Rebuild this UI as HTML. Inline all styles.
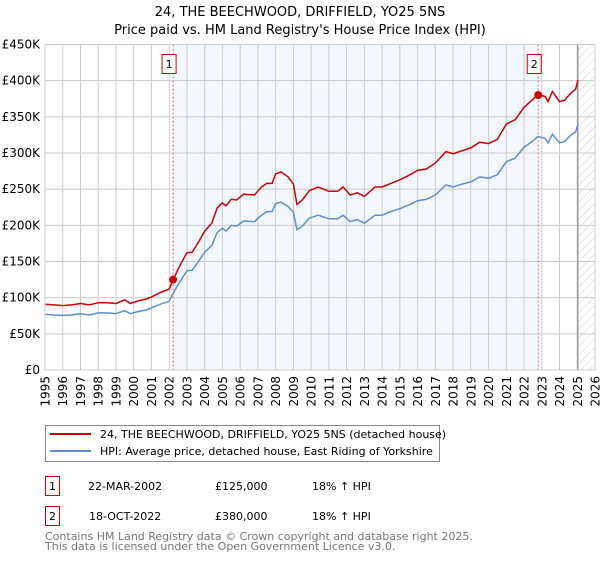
<!DOCTYPE html>
<html><head><meta charset="utf-8"><style>
body{margin:0;background:#fff;font-family:"DejaVu Sans","Liberation Sans",sans-serif;}
svg text{font-family:"DejaVu Sans","Liberation Sans",sans-serif;}
</style></head><body>
<svg id="chart" width="600" height="560" xmlns="http://www.w3.org/2000/svg">
<defs><pattern id="hatch" width="6" height="6" patternUnits="userSpaceOnUse" patternTransform="rotate(45)"><line x1="0" y1="0" x2="0" y2="6" stroke="#ccc" stroke-width="1"/></pattern></defs>
<text x="300" y="16" text-anchor="middle" font-size="13">24, THE BEECHWOOD, DRIFFIELD, YO25 5NS</text>
<text x="300" y="34" text-anchor="middle" font-size="13">Price paid vs. HM Land Registry's House Price Index (HPI)</text>
<g id="plot"></g>
<g>
<rect x="45.5" y="425.5" width="394" height="36" fill="#fff" stroke="#888"/>
<line x1="50" y1="434" x2="91" y2="434" stroke="#cc0000" stroke-width="2"/>
<text x="100" y="438" font-size="11">24, THE BEECHWOOD, DRIFFIELD, YO25 5NS (detached house)</text>
<line x1="50" y1="451" x2="91" y2="451" stroke="#5b8fd0" stroke-width="2"/>
<text x="100" y="455" font-size="11">HPI: Average price, detached house, East Riding of Yorkshire</text>
</g>
<g font-size="11">
<rect x="45.5" y="476.5" width="14" height="19" fill="#fff" stroke="#cc0000"/><text x="52.5" y="490" text-anchor="middle">1</text>
<text x="88" y="490">22-MAR-2002</text><text x="215" y="490">£125,000</text><text x="312" y="490">18% ↑ HPI</text>
<rect x="45.5" y="506.5" width="14" height="19" fill="#fff" stroke="#cc0000"/><text x="52.5" y="520" text-anchor="middle">2</text>
<text x="89" y="520">18-OCT-2022</text><text x="215" y="520">£380,000</text><text x="312" y="520">18% ↑ HPI</text>
</g>
<text x="45" y="540" font-size="11" fill="#777">Contains HM Land Registry data © Crown copyright and database right 2025.</text>
<text x="45" y="550" font-size="11" fill="#777">This data is licensed under the Open Government Licence v3.0.</text>
</svg>
<script>
const years=[1995.0,1995.5,1996.0,1996.5,1997.0,1997.5,1998.0,1998.5,1999.0,1999.5,
1999.8,2000.3,2000.7,2001.0,2001.5,2002.0,2002.22,2002.6,2003.0,2003.3,
2003.7,2004.0,2004.4,2004.7,2005.0,2005.2,2005.5,2005.8,2006.2,2006.8,
2007.2,2007.5,2007.8,2008.0,2008.3,2008.7,2009.0,2009.2,2009.5,2009.9,
2010.4,2011.0,2011.5,2011.8,2012.2,2012.6,2013.0,2013.6,2014.0,2014.5,
2015.0,2015.5,2016.0,2016.5,2017.0,2017.6,2018.0,2018.5,2019.0,2019.5,
2020.0,2020.5,2021.0,2021.5,2022.0,2022.4,2022.8,2023.2,2023.35,2023.6,
2024.0,2024.3,2024.6,2024.9,2025.05];
const hpiValues=[77,76,75.5,76,78,76,79,79,78,82,
78,81,83,86,91,95,106,122,137,138,
152,163,172,190,196,192,200,199,206,205,
214,219,219,230,232,226,218,194,199,210,
214,209,209,214,205,208,203,214,214,219,
223,228,234,236,242,256,253,257,260,267,
265,270,288,293,308,315,323,320,314,326,
314,316,324,329,340];
const propertyValues=[91,90,89,90,92,90,93,93,92,97,
92,96,98,101,107,112,125,144,162,163,
179,192,203,224,231,227,236,235,243,242,
253,258,258,271,274,267,257,229,235,248,
253,247,247,253,242,245,240,253,253,258,
263,269,276,278,286,302,299,303,307,315,
313,319,340,346,363,372,381,378,371,385,
371,373,382,388,401];
const saleYears=[2002.22,2022.8];
const salePrices=[125,380];
const saleLabels=["1","2"];
const yTicks=[0,50,100,150,200,250,300,350,400,450];
const yTickLabels=["£0","£50K","£100K","£150K","£200K","£250K","£300K","£350K","£400K","£450K"];
const xTicks=[];for(let y=1995;y<=2026;y++)xTicks.push(y);
const dataEndYear=2025.03;

const L=45,R=595,T=44.5,B=370;
const xs=v=>L+(v-1995)/(2026-1995)*(R-L);
const ys=v=>B-v/450*(B-T);
const NS="http://www.w3.org/2000/svg";
const g=document.getElementById('plot');
function mk(tag,attrs,parent){const e=document.createElementNS(NS,tag);for(const k in attrs)e.setAttribute(k,attrs[k]);(parent||g).appendChild(e);return e;}

const shade=mk('rect',{x:xs(saleYears[0]),y:T,width:xs(saleYears[1])-xs(saleYears[0]),height:B-T,fill:'#eef3fd',opacity:0.7});


const hatch=mk('rect',{x:xs(dataEndYear),y:T,width:R-xs(dataEndYear),height:B-T,fill:'url(#hatch)'});



yTicks.forEach((t,i)=>{
  const ln=mk('line',{x1:L,x2:R,y1:ys(t),y2:ys(t),stroke:'#ccc','stroke-width':1});
  
  
  const tx=mk('text',{x:L-5,y:ys(t)+4,'text-anchor':'end','font-size':12});
  tx.textContent=yTickLabels[i];
  
  
});
xTicks.forEach(t=>{
  const ln=mk('line',{x1:xs(t),x2:xs(t),y1:T,y2:B,stroke:'#ccc','stroke-width':1});
  
  
  const tx=mk('text',{x:0,y:0,'text-anchor':'end','font-size':12,transform:`translate(${xs(t)+4.5},${B+6}) rotate(-90)`});
  tx.textContent=t;
  
  
});
const endLine=mk('line',{x1:xs(dataEndYear),x2:xs(dataEndYear),y1:T,y2:B,stroke:'#888','stroke-width':1.2});



saleYears.forEach((sy,i)=>{
  const ln=mk('line',{x1:xs(sy),x2:xs(sy),y1:T,y2:B,stroke:'#e66','stroke-width':1,'stroke-dasharray':'2,2'});
  
  
  const bx=mk('rect',{x:xs(sy)-11,y:54.5,width:14,height:19,fill:'#fff',stroke:'#cc0000'});
  
  
  const tx=mk('text',{x:xs(sy)-4,y:68,'text-anchor':'middle','font-size':11});
  tx.textContent=saleLabels[i];
  
  
});

const hp=mk('path',{d:years.map((y,i)=>(i?'L':'M')+xs(y).toFixed(1)+','+ys(hpiValues[i]).toFixed(1)).join(''),fill:'none',stroke:'#5b8fd0','stroke-width':1.5});


const pp=mk('path',{d:years.map((y,i)=>(i?'L':'M')+xs(y).toFixed(1)+','+ys(propertyValues[i]).toFixed(1)).join(''),fill:'none',stroke:'#cc0000','stroke-width':1.5});


saleYears.forEach((sy,i)=>{
  const c=mk('circle',{cx:xs(sy),cy:ys(salePrices[i]),r:4,fill:'#cc0000'});
  
  
});
const frame=mk('rect',{x:L,y:T,width:R-L,height:B-T,fill:'none',stroke:'#ccc'});


</script>
</body></html>
